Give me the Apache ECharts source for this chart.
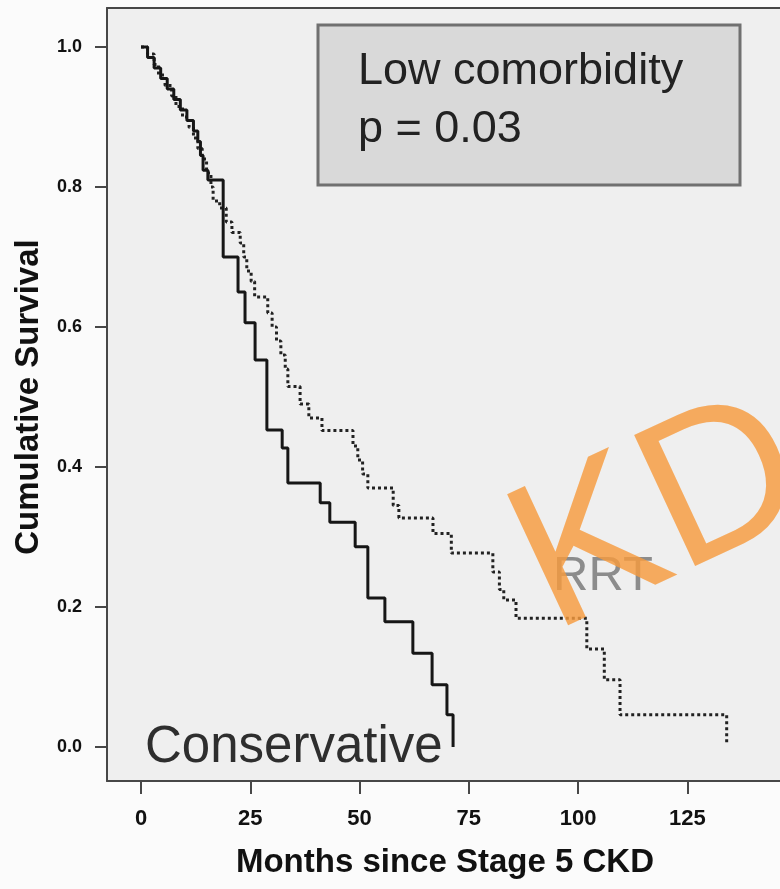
<!DOCTYPE html>
<html>
<head>
<meta charset="utf-8">
<script src="https://cdn.jsdelivr.net/npm/echarts@6/dist/echarts.min.js"></script>
<style>
  html, body { margin: 0; padding: 0; background: #fbfbfb; }
  #chart { width: 780px; height: 889px; }
</style>
</head>
<body>
<div id="chart"></div>
<script>
// ---- data ----
const xTicks = [0, 25, 50, 75, 100, 125];
const yTicks = [0, 0.2, 0.4, 0.6, 0.8, 1.0];

const conservativeTime = [0, 1.5, 3, 4.5, 6, 7.5, 9, 10.5, 12, 13, 13.6, 14.2, 15.3, 18.8, 22.2, 23.8, 26.1, 28.8, 32.3, 33.6, 41, 43.2, 49, 51.9, 55.8, 62.2, 66.6, 70, 71.4];
const conservativeSurv = [1.0, 0.985, 0.97, 0.955, 0.94, 0.925, 0.91, 0.895, 0.88, 0.865, 0.845, 0.824, 0.81, 0.70, 0.65, 0.606, 0.553, 0.453, 0.427, 0.377, 0.349, 0.321, 0.286, 0.213, 0.179, 0.134, 0.089, 0.046, 0.0];

const rrtTime = [0, 1.5, 3, 4, 5.5, 7, 8, 9.5, 11, 12, 13, 14, 15, 16, 16.5, 18, 19.5, 20.8, 22.7, 23.5, 24.2, 25.2, 26, 29, 30, 31, 32, 33, 33.6, 36.4, 38.4, 41.4, 48.5, 49.6, 50.7, 51.9, 57.7, 59, 66.8, 71, 80.5, 82, 83, 85.8, 102, 106, 109.6, 134];
const rrtSurv = [1.0, 0.99, 0.975, 0.96, 0.945, 0.93, 0.915, 0.90, 0.885, 0.87, 0.855, 0.84, 0.82, 0.80, 0.78, 0.77, 0.75, 0.735, 0.72, 0.70, 0.68, 0.665, 0.643, 0.62, 0.60, 0.58, 0.56, 0.54, 0.515, 0.49, 0.47, 0.452, 0.43, 0.41, 0.39, 0.37, 0.345, 0.327, 0.305, 0.277, 0.25, 0.225, 0.21, 0.184, 0.14, 0.096, 0.046, 0.005];

const xTitle = 'Months since Stage 5 CKD';
const yTitle = 'Cumulative Survival';
const boxLine1 = 'Low comorbidity';
const boxLine2 = 'p = 0.03';
const seriesNames = ['Conservative', 'RRT'];

// ---- chart ----
const chart = echarts.init(document.getElementById('chart'), null, { renderer: 'canvas' });
const FONT = '"Liberation Sans", Arial, Helvetica, sans-serif';
const zip = (a, b) => a.map((v, i) => [v, b[i]]);
const AX = '#474747';
const XMIN = -7.78, XMAX = 146.2;

const option = {
  backgroundColor: '#fbfbfb',
  animation: false,
  grid: {
    left: 107, top: 8, right: 0, bottom: 108,
    show: true, backgroundColor: '#efefef', borderWidth: 0
  },
  xAxis: [
    {
      type: 'value', min: XMIN, max: XMAX, position: 'bottom',
      axisLine: { show: true, onZero: false, lineStyle: { color: AX, width: 2 } },
      splitLine: { show: false },
      axisTick: { show: true, inside: false, length: 13, customValues: xTicks, lineStyle: { color: AX, width: 2 } },
      axisLabel: { customValues: xTicks, margin: 27, color: '#111', fontSize: 22, fontWeight: 'bold', fontFamily: FONT }
    },
    {
      type: 'value', min: XMIN, max: XMAX, position: 'top',
      axisLine: { show: true, onZero: false, lineStyle: { color: AX, width: 2 } },
      splitLine: { show: false }, axisTick: { show: false }, axisLabel: { show: false }
    }
  ],
  yAxis: {
    type: 'value', min: -0.0486, max: 1.0557,
    axisLine: { show: true, onZero: false, lineStyle: { color: AX, width: 2 } },
    splitLine: { show: false },
    axisTick: { show: true, inside: false, length: 12, customValues: yTicks, lineStyle: { color: AX, width: 2 } },
    axisLabel: { customValues: yTicks, margin: 25, color: '#111', fontSize: 18, fontWeight: 'bold', fontFamily: FONT,
      formatter: v => v.toFixed(1) }
  },
  series: [
    {
      name: seriesNames[1], type: 'line', step: 'end', symbol: 'none',
      data: zip(rrtTime, rrtSurv),
      lineStyle: { color: '#222', width: 3, type: [3, 3] }, z: 2
    },
    {
      name: seriesNames[0], type: 'line', step: 'end', symbol: 'none',
      data: zip(conservativeTime, conservativeSurv),
      lineStyle: { color: '#161616', width: 3 }, z: 3
    }
  ],
  graphic: [
    { type: 'rect', shape: { x: 318, y: 25, width: 422, height: 160 },
      style: { fill: '#d9d9d9', stroke: '#707070', lineWidth: 3 }, z: 10 },
    { type: 'text', x: 358, y: 72, z: 11,
      style: { text: boxLine1, fontSize: 45, fontFamily: FONT, fill: '#222', textAlign: 'left', textVerticalAlign: 'middle', align: 'left', verticalAlign: 'middle' } },
    { type: 'text', x: 358, y: 130, z: 11,
      style: { text: boxLine2, fontSize: 45, fontFamily: FONT, fill: '#222', textAlign: 'left', textVerticalAlign: 'middle', align: 'left', verticalAlign: 'middle' } },
    { type: 'text', x: 145, y: 748, z: 11,
      style: { text: seriesNames[0], fontSize: 51, fontFamily: FONT, fill: '#2e2e2e', textAlign: 'left', textVerticalAlign: 'middle', align: 'left', verticalAlign: 'middle' } },
    { type: 'text', x: 553, y: 576, z: 11,
      style: { text: seriesNames[1], fontSize: 49, fontFamily: FONT, fill: '#8c8c8c', textAlign: 'left', textVerticalAlign: 'middle', align: 'left', verticalAlign: 'middle' } },
    { type: 'text', x: 445, y: 863, z: 11,
      style: { text: xTitle, fontSize: 33, fontWeight: 'bold', fontFamily: FONT, fill: '#111', textAlign: 'center', textVerticalAlign: 'middle', align: 'center', verticalAlign: 'middle' } },
    { type: 'text', x: 29, y: 397, z: 11, rotation: Math.PI / 2,
      style: { text: yTitle, fontSize: 33, fontWeight: 'bold', fontFamily: FONT, fill: '#111', textAlign: 'center', textVerticalAlign: 'middle', align: 'center', verticalAlign: 'middle' } },
    { type: 'text', x: 528, y: 580, z: 20, rotation: 0.436,
      style: { text: 'KD', fontSize: 210, fontFamily: FONT, fill: 'rgba(246,155,62,0.82)', textAlign: 'left', textVerticalAlign: 'middle', align: 'left', verticalAlign: 'middle' } }
  ]
};
chart.setOption(option);
</script>
</body>
</html>
